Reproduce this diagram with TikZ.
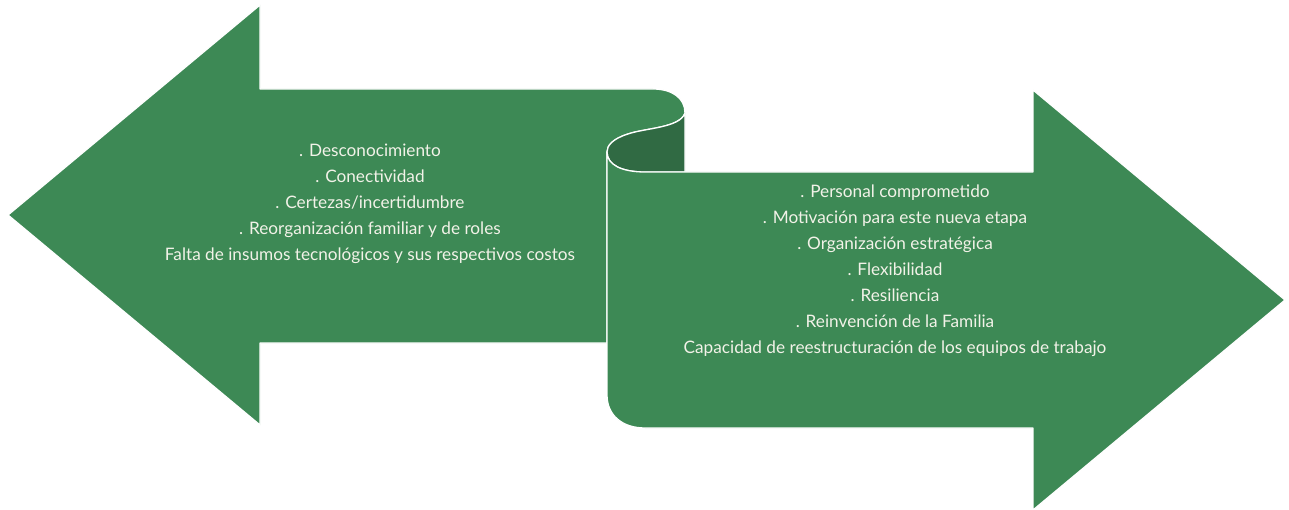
\documentclass[tikz,border=0pt]{standalone}
\usepackage{fontspec}
\setmainfont{Lato}
\definecolor{mainGreen}{RGB}{61,137,85}
\definecolor{backGreen}{RGB}{48,106,67}
\definecolor{txt}{RGB}{242,242,232}
\begin{document}
\begin{tikzpicture}[x=1pt,y=-1pt,
  face/.style={fill=mainGreen,draw=white,line width=1.3pt,line join=round},
  back/.style={fill=backGreen,draw=white,line width=1.3pt,line join=round},
  lbl/.style={text=txt,align=center,font=\fontsize{17.2}{26}\selectfont,inner sep=0pt}]
\useasboundingbox (0,0) rectangle (1289,510);
% left arrow face
\path[face] (8,215) -- (260,5) -- (260,89) -- (653,89)
  .. controls (672,89) and (685,98) .. (685,113)
  .. controls (680,128) and (645,128) .. (628,134)
  .. controls (612,139) and (607,146) .. (607,152)
  -- (607,343) -- (260,343) -- (260,425) -- cycle;
% back of the curl
\path[back] (685,113)
  .. controls (680,128) and (645,128) .. (628,134)
  .. controls (612,139) and (607,146) .. (607,152)
  .. controls (607,165) and (622,172) .. (645,172)
  -- (685,172) -- cycle;
% right arrow face
\path[face] (607,152)
  .. controls (607,165) and (622,172) .. (645,172)
  -- (1033,172) -- (1033,90) -- (1285,300) -- (1033,510) -- (1033,428)
  -- (645,428) .. controls (622,428) and (607,415) .. (607,395) -- cycle;
\node[lbl] (left) at (370,204) {. Desconocimiento\\. Conectividad\\. Certezas/incertidumbre\\. Reorganización familiar y de roles\\Falta de insumos tecnológicos y sus respectivos costos};
\node[lbl] (right) at (895,271) {. Personal comprometido\\. Motivación para este nueva etapa\\. Organización estratégica\\. Flexibilidad\\. Resiliencia\\. Reinvención de la Familia\\Capacidad de reestructuración de los equipos de trabajo};
\end{tikzpicture}
\end{document}
